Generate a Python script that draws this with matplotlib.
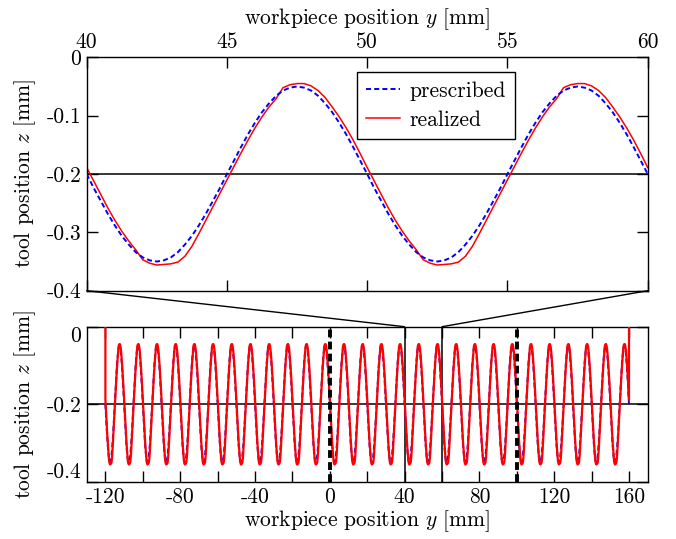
import numpy as np
import matplotlib
matplotlib.use("Agg")
import matplotlib.pyplot as plt
from matplotlib.patches import ConnectionPatch

plt.rcParams.update({
    "font.family": "serif",
    "font.serif": ["cmr10"],
    "mathtext.fontset": "cm",
    "axes.formatter.use_mathtext": True,
    "font.size": 15.5,
    "axes.linewidth": 1.0,
})

# one period (10 mm) of the tool path, sampled every 0.25 mm starting at y = 40 mm
sample_step = 0.25
prescribed_period = [
    -0.200, -0.224, -0.246, -0.268, -0.288, -0.306, -0.321, -0.334, -0.343, -0.348,
    -0.350, -0.348, -0.343, -0.334, -0.321, -0.306, -0.288, -0.268, -0.246, -0.224,
    -0.200, -0.177, -0.154, -0.132, -0.112, -0.094, -0.079, -0.066, -0.057, -0.052,
    -0.050, -0.052, -0.057, -0.066, -0.079, -0.094, -0.112, -0.132, -0.154, -0.177,
]
realized_period = [
    -0.189, -0.212, -0.235, -0.258, -0.279, -0.298, -0.315, -0.330, -0.347, -0.353,
    -0.356, -0.355, -0.354, -0.351, -0.341, -0.324, -0.302, -0.279, -0.256, -0.233,
    -0.210, -0.187, -0.164, -0.142, -0.121, -0.102, -0.085, -0.071, -0.052, -0.047,
    -0.045, -0.045, -0.049, -0.057, -0.069, -0.085, -0.102, -0.121, -0.142, -0.165,
]
path_start, path_end = -120.0, 160.0     # machined length of the workpiece
retract_z = 0.08                        # tool lifted clear before/after the cut
detail_start, detail_end = 40.0, 60.0
marker_positions = [0.0, 100.0]

top_xticks = [40, 45, 50, 55, 60]
top_yticks = [0, -0.1, -0.2, -0.3, -0.4]
top_yticklabels = ["0", "-0.1", "-0.2", "-0.3", "-0.4"]
bottom_xticks = list(range(-120, 161, 20))
bottom_yticks = [0, -0.2, -0.4]
bottom_yticklabels = ["0", "-0.2", "-0.4"]


def build_path(period, start, end):
    n_per = len(period)
    n_periods = int(round((end - start) / (n_per * sample_step)))
    z = np.append(np.tile(period, n_periods), period[0])
    y = start + sample_step * np.arange(len(z))
    return y, z


y_full, zp_full = build_path(prescribed_period, path_start, path_end)
_, zr_full = build_path(realized_period, path_start, path_end)
yr_full = np.concatenate([[path_start], y_full, [path_end]])
zr_full = np.concatenate([[retract_z], zr_full, [retract_z]])
y_det, zp_det = build_path(prescribed_period, detail_start, detail_end)
_, zr_det = build_path(realized_period, detail_start, detail_end)

W, H = 676, 539
fig = plt.figure(figsize=(W / 100, H / 100), dpi=100)
ax1 = fig.add_axes([86.7 / W, 1 - 290.7 / H, (647.7 - 86.7) / W, (290.7 - 57.3) / H])
ax2 = fig.add_axes([86.7 / W, 1 - 481.5 / H, (647.7 - 86.7) / W, (481.5 - 326.7) / H])

blue = "#0000ff"
red = "#ff0000"

# detail view
ax1.axhline(-0.2, color="k", lw=1.1, zorder=1)
ax1.plot(y_det, zp_det, color=blue, lw=1.4, ls=(0, (2.6, 1.6)), label="prescribed", zorder=3)
ax1.plot(y_det, zr_det, color=red, lw=1.1, label="realized", zorder=2)
ax1.set_xlim(detail_start, detail_end)
ax1.set_ylim(-0.4, 0)
ax1.xaxis.tick_top()
ax1.xaxis.set_label_position("top")
ax1.set_xticks(top_xticks)
ax1.set_xticklabels([str(t) for t in top_xticks])
ax1.set_yticks(top_yticks)
ax1.set_yticklabels(top_yticklabels)
ax1.tick_params(direction="in", length=8, width=1, top=True, bottom=True,
                left=True, right=True, labeltop=True, labelbottom=False, pad=4)
ax1.set_xlabel(r"workpiece position $y$ [mm]", labelpad=6)
ax1.set_ylabel(r"tool position $z$ [mm]", labelpad=6)
leg = ax1.legend(loc="upper right", bbox_to_anchor=(0.763, 0.937), borderaxespad=0,
                 fancybox=False, framealpha=1, edgecolor="k", handlelength=1.55,
                 handletextpad=0.45, borderpad=0.42, labelspacing=0.45)
leg.get_frame().set_linewidth(1.0)

# full path
ax2.axhline(-0.2, color="k", lw=1.1, zorder=1)
for xv in (detail_start, detail_end):
    ax2.axvline(xv, color="k", lw=1.1, zorder=1)
for xv in marker_positions:
    ax2.axvline(xv, color="k", lw=2.8, ls=(0, (2.0, 1.1)), zorder=4)
ax2.plot(y_full, zp_full, color=blue, lw=1.4, ls=(0, (2.6, 1.6)), zorder=2)
ax2.plot(yr_full, zr_full, color=red, lw=1.6, zorder=3)
ax2.set_xlim(-130, 170)
ax2.set_ylim(-0.4, 0)
ax2.set_xticks(bottom_xticks)
ax2.set_xticklabels([str(t) if t % 40 == 0 else "" for t in bottom_xticks])
ax2.set_yticks(bottom_yticks)
ax2.set_yticklabels(bottom_yticklabels)
ax2.tick_params(direction="in", length=8, width=1, top=True, bottom=True,
                left=True, right=True, pad=4)
# keep the end labels inside the short axis
ylabels = ax2.get_yticklabels()
ylabels[0].set_verticalalignment("top")
ylabels[-1].set_verticalalignment("bottom")
ax2.set_xlabel(r"workpiece position $y$ [mm]", labelpad=1)
ax2.set_ylabel(r"tool position $z$ [mm]", labelpad=6)

# zoom connectors from the detail view down to the full path
for xv, corner in ((detail_start, 0.0), (detail_end, 1.0)):
    con = ConnectionPatch(xyA=(corner, 0.0), coordsA=ax1.transAxes,
                          xyB=(xv, 1.0), coordsB=ax2.get_xaxis_transform(),
                          color="k", lw=1.0)
    fig.add_artist(con)

fig.savefig("out.png", dpi=100)
